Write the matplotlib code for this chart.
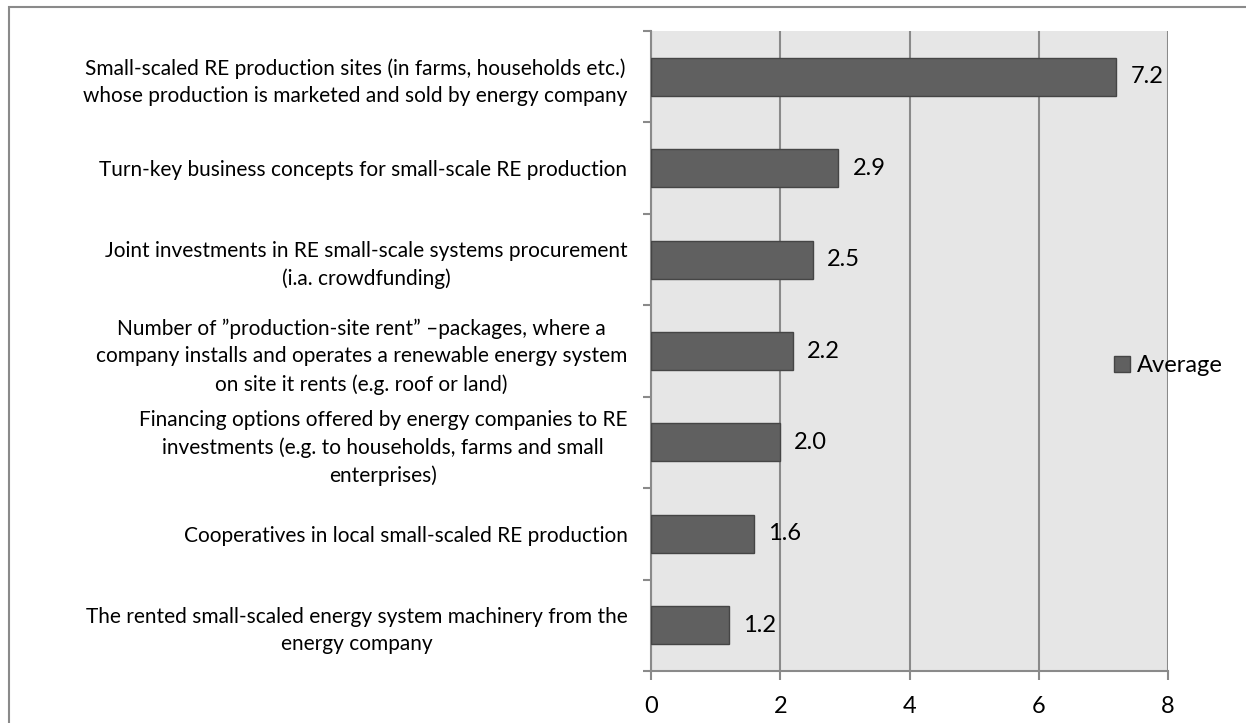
import matplotlib
matplotlib.use("Agg")
import matplotlib.pyplot as plt
from matplotlib.patches import Rectangle, Patch

plt.rcParams['font.family'] = ['Lato', 'DejaVu Sans']

categories = [
    "Small-scaled RE production sites (in farms, households etc.)\nwhose production is marketed and sold by energy company",
    "Turn-key business concepts for small-scale RE production",
    "Joint investments in RE small-scale systems procurement\n(i.a. crowdfunding)",
    "Number of \u201dproduction-site rent\u201d \u2013packages, where a\ncompany installs and operates a renewable energy system\non site it rents (e.g. roof or land)",
    "Financing options offered by energy companies to RE\ninvestments (e.g. to households, farms and small\nenterprises)",
    "Cooperatives in local small-scaled RE production",
    "The rented small-scaled energy system machinery from the\nenergy company",
]
values = [7.2, 2.9, 2.5, 2.2, 2.0, 1.6, 1.2]
series_name = "Average"
x_ticks = [0, 2, 4, 6, 8]

W, H = 1246, 723
fig = plt.figure(figsize=(W / 100, H / 100), dpi=100)

# plot area in pixel coordinates
left, right, top, bottom = 651, 1168, 31, 671
ax = fig.add_axes([left / W, 1 - bottom / H, (right - left) / W, (bottom - top) / H])

BAR = "#606060"
BAR_EDGE = "#454545"
GRID = "#8a8a8a"
FS_CAT = 15     # category labels
FS_BIG = 17     # value labels, x ticks, legend

ax.set_facecolor("#e6e6e6")
pos = list(range(len(categories)))
ax.barh(pos, values, height=0.416, color=BAR, edgecolor=BAR_EDGE,
        linewidth=1.0, zorder=3, label=series_name)

for y, v in zip(pos, values):
    ax.annotate(f"{v:.1f}", xy=(v, y), xytext=(14, 0), textcoords="offset pixels",
                ha="left", va="center", fontsize=FS_BIG, color="black", zorder=4)

ax.set_xlim(0, 8)
ax.set_ylim(len(categories) - 0.5, -0.5)
ax.set_xticks(x_ticks)
ax.set_xticklabels([str(t) for t in x_ticks], fontsize=FS_BIG)
ax.xaxis.grid(True, color=GRID, linewidth=1.5, zorder=1)
ax.set_axisbelow(True)

# category boundaries get the tick marks, centres get the labels
ax.set_yticks([i - 0.5 for i in range(len(categories) + 1)])
ax.set_yticklabels([])
ax.set_yticks(pos, minor=True)
ax.set_yticklabels(categories, minor=True, fontsize=FS_CAT)
for lbl in ax.get_yticklabels(minor=True):
    lbl.set_multialignment("center")
    lbl.set_linespacing(1.45)

ax.tick_params(axis="y", which="major", length=6, width=1.5, color=GRID, direction="out")
ax.tick_params(axis="y", which="minor", length=0, pad=17)
ax.tick_params(axis="x", length=6.5, width=1.5, color=GRID, direction="out", pad=11.5)

for side in ("top", "right"):
    ax.spines[side].set_visible(False)
for side in ("left", "bottom"):
    ax.spines[side].set_color(GRID)
    ax.spines[side].set_linewidth(1.5)

ax.legend(handles=[Patch(facecolor=BAR, edgecolor=BAR_EDGE, label=series_name)],
          loc="center left", bbox_to_anchor=(1114 / W, 1 - 366 / H),
          bbox_transform=fig.transFigure, frameon=False, fontsize=FS_BIG,
          handlelength=0.68, handleheight=0.68, handletextpad=0.3,
          borderpad=0, borderaxespad=0)

# outer chart border (left and top edges visible)
fig.patches.append(Rectangle((9 / W, -0.05), 1.2, 1 - 7 / H + 0.05,
                             transform=fig.transFigure, fill=False,
                             edgecolor=GRID, linewidth=1.5))

fig.savefig("out.png", dpi=100)
